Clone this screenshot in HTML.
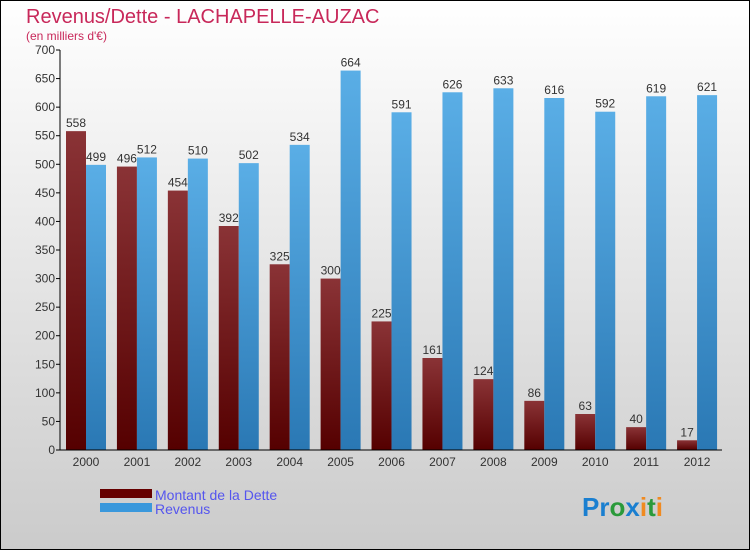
<!DOCTYPE html>
<html><head><meta charset="utf-8"><style>
body{margin:0;width:750px;height:550px;overflow:hidden;font-family:"Liberation Sans",sans-serif}
svg{display:block}
</style></head><body>
<svg id="c" width="750" height="550" xmlns="http://www.w3.org/2000/svg">
<defs>
<linearGradient id="bg" x1="0" y1="0" x2="0" y2="1"><stop offset="0" stop-color="#ffffff"/><stop offset="1" stop-color="#cbcbcb"/></linearGradient>
<linearGradient id="gd" x1="0" y1="0" x2="0" y2="1"><stop offset="0" stop-color="#8a3336"/><stop offset="1" stop-color="#550000"/></linearGradient>
<linearGradient id="gr" x1="0" y1="0" x2="0" y2="1"><stop offset="0" stop-color="#5aaee6"/><stop offset="1" stop-color="#2a78b4"/></linearGradient>
</defs>
<rect x="0.5" y="0.5" width="749" height="549" fill="url(#bg)" stroke="#000"/>
<text x="26" y="23" font-size="20" fill="#c8285a">Revenus/Dette - LACHAPELLE-AUZAC</text>
<text x="26" y="40" font-size="12" fill="#c8285a">(en milliers d'€)</text>
<g id="plot"></g>
<rect x="100" y="489" width="52" height="9" fill="#660000"/>
<rect x="100" y="503" width="52" height="9" fill="#3a98dc"/>
<text x="155" y="500" font-size="14" fill="#5555ee">Montant de la Dette</text>
<text x="155" y="514" font-size="14" fill="#5555ee">Revenus</text>
<text x="582" y="516" font-size="26" font-weight="bold"><tspan fill="#1a7fd0">Pr</tspan><tspan fill="#2a9a3a">o</tspan><tspan fill="#1a7fd0">x</tspan><tspan fill="#f08a20">i</tspan><tspan fill="#2a9a3a">t</tspan><tspan fill="#f08a20">i</tspan></text>
</svg>
<script>
const years=["2000","2001","2002","2003","2004","2005","2006","2007","2008","2009","2010","2011","2012"];
const dette=[558,496,454,392,325,300,225,161,124,86,63,40,17];
const revenus=[499,512,510,502,534,664,591,626,633,616,592,619,621];
const yTicks=[0,50,100,150,200,250,300,350,400,450,500,550,600,650,700];
const NS="http://www.w3.org/2000/svg";
const g=document.getElementById('plot');
const x0=60,x1=722,y0=450,yTop=50,maxV=700;
const step=(x1-x0)/years.length;
const y=v=>y0-v/maxV*(y0-yTop);
function mk(t,a,txt){const e=document.createElementNS(NS,t);for(const k in a)e.setAttribute(k,a[k]);if(txt!==undefined)e.textContent=txt;g.appendChild(e);return e;}
yTicks.forEach(v=>{
 const l=mk('line',{x1:x0-4,x2:x0,y1:y(v),y2:y(v),stroke:'#000'});
 
 
 const t=mk('text',{x:x0-5,y:y(v)+4,'font-size':12,fill:'#333','text-anchor':'end'},v);
 
 
});
years.forEach((yr,i)=>{
 const gx=x0+i*step;
 const b1=mk('rect',{x:gx+6,y:y(dette[i]),width:20,height:y0-y(dette[i]),fill:'url(#gd)'});
 
 
 const b2=mk('rect',{x:gx+26,y:y(revenus[i]),width:20,height:y0-y(revenus[i]),fill:'url(#gr)'});
 
 
 const t1=mk('text',{x:gx+16,y:y(dette[i])-4,'font-size':12,fill:'#333','text-anchor':'middle'},dette[i]);
 
 
 const t2=mk('text',{x:gx+36,y:y(revenus[i])-4,'font-size':12,fill:'#333','text-anchor':'middle'},revenus[i]);
 
 
 const xl=mk('text',{x:gx+26,y:466,'font-size':12,fill:'#333','text-anchor':'middle'},yr);
 
 
});
const ax=mk('line',{x1:x0,x2:x0,y1:yTop,y2:y0,stroke:'#000'});


const bx=mk('line',{x1:x0,x2:x1,y1:y0,y2:y0,stroke:'#000'});


</script>
</body></html>
